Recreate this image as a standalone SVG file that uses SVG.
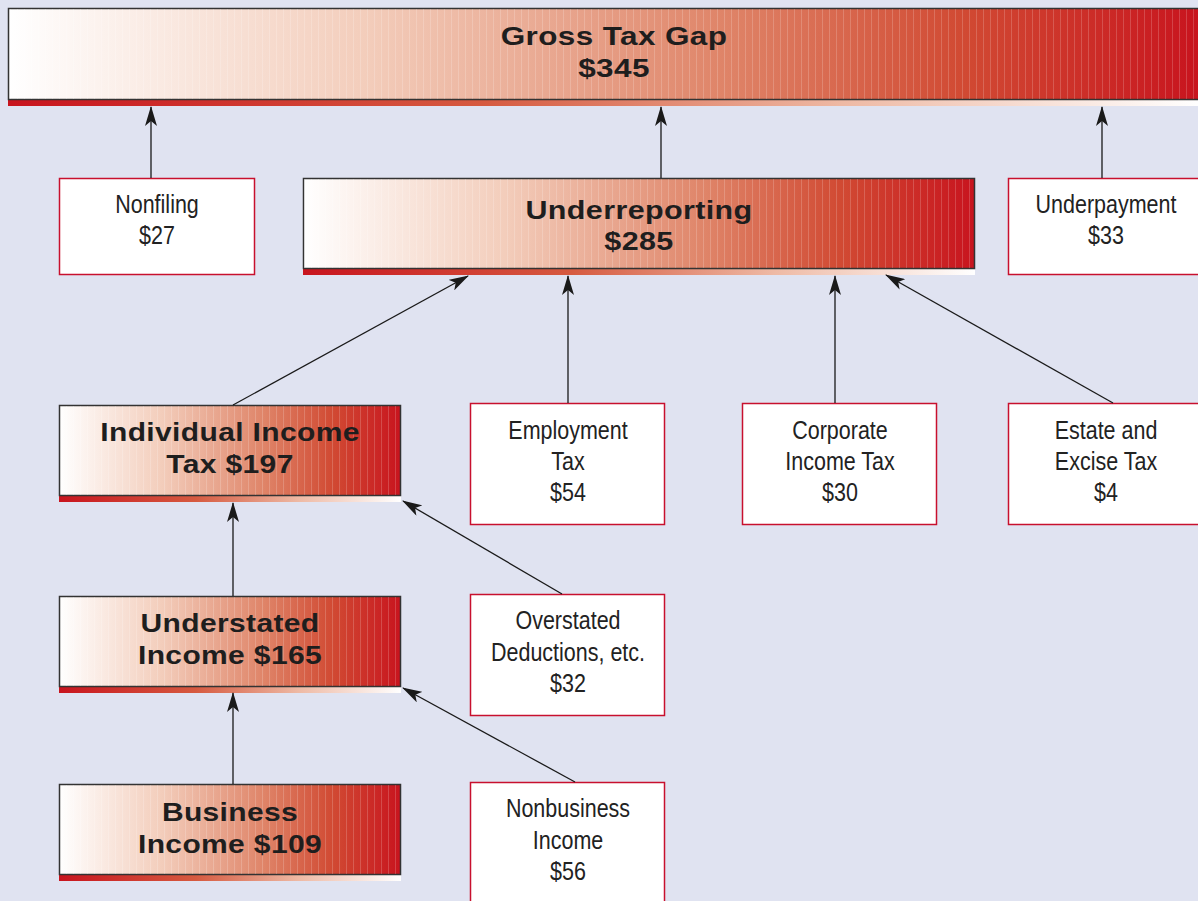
<svg xmlns="http://www.w3.org/2000/svg" width="1198" height="901" viewBox="0 0 1198 901">
<defs>
<linearGradient id="g" x1="0" y1="0" x2="1" y2="0">
<stop offset="0" stop-color="#ffffff"/>
<stop offset="0.3" stop-color="#f3cdbb"/>
<stop offset="0.6" stop-color="#df8468"/>
<stop offset="0.8" stop-color="#d14a33"/>
<stop offset="1" stop-color="#c8141e"/>
</linearGradient>
<linearGradient id="gr" x1="0" y1="0" x2="1" y2="0">
<stop offset="0" stop-color="#c8141e"/>
<stop offset="0.4" stop-color="#d65a40"/>
<stop offset="0.7" stop-color="#eeb9a4"/>
<stop offset="1" stop-color="#ffffff"/>
</linearGradient>
<pattern id="stripes" width="7" height="10" patternUnits="userSpaceOnUse">
<rect x="3" y="0" width="1" height="10" fill="#ffffff" opacity="0.18"/>
</pattern>
<marker id="ah" viewBox="0 0 20 12" refX="19" refY="6" markerWidth="20" markerHeight="12" markerUnits="userSpaceOnUse" orient="auto">
<path d="M0,0 L20,6 L0,12 L5,6 Z" fill="#1a1a1a"/>
</marker>
</defs>
<style>
.gbox{fill:url(#g);stroke:#333;stroke-width:1.5}
.strip{fill:url(#gr)}
.ov{fill:url(#stripes)}
.wbox{fill:#fff;stroke:#c8102e;stroke-width:1.5}
.bt{font-family:"Liberation Sans",Arial,sans-serif;font-weight:bold;font-size:25px;letter-spacing:0.3px;fill:#1e1e1e;text-anchor:middle}
.nt{font-family:"Liberation Sans",Arial,sans-serif;font-size:25px;fill:#222;text-anchor:middle}
.conn{stroke:#1a1a1a;stroke-width:1.3;fill:none;marker-end:url(#ah)}
</style>
<rect width="1198" height="901" fill="#e0e3f1"/>

<g id="gross">
<rect x="8" y="99" width="1192" height="7" class="strip"/>
<rect x="8.5" y="8.5" width="1192" height="91" class="gbox"/>
<rect x="9" y="9" width="1190" height="90" class="ov"/>
<g transform="translate(614,0) scale(1.26,1)">
<text x="0" y="45" class="bt">Gross Tax Gap</text>
<text x="0" y="77" class="bt">$345</text>
</g>
</g>

<g id="nonfiling">
<rect x="59.5" y="178.5" width="195" height="96" class="wbox"/>
<g transform="translate(157,0) scale(0.86,1)">
<text x="0" y="213" class="nt">Nonfiling</text>
<text x="0" y="244" class="nt">$27</text>
</g>
</g>

<g id="underreporting">
<rect x="303" y="268" width="672" height="7" class="strip"/>
<rect x="303.5" y="178.5" width="671" height="90" class="gbox"/>
<rect x="304" y="179" width="670" height="89" class="ov"/>
<g transform="translate(639,0) scale(1.22,1)">
<text x="0" y="219" class="bt">Underreporting</text>
<text x="0" y="250" class="bt">$285</text>
</g>
</g>

<g id="underpayment">
<rect x="1008.5" y="178.5" width="195" height="96" class="wbox"/>
<g transform="translate(1106,0) scale(0.86,1)">
<text x="0" y="213" class="nt">Underpayment</text>
<text x="0" y="244" class="nt">$33</text>
</g>
</g>

<g id="individual">
<rect x="59" y="495" width="342" height="7" class="strip"/>
<rect x="59.5" y="405.5" width="341" height="90" class="gbox"/>
<rect x="60" y="406" width="340" height="89" class="ov"/>
<g transform="translate(230,0) scale(1.2,1)">
<text x="0" y="441" class="bt">Individual Income</text>
<text x="0" y="473" class="bt">Tax $197</text>
</g>
</g>

<g id="employment">
<rect x="470.5" y="403.5" width="194" height="121" class="wbox"/>
<g transform="translate(568,0) scale(0.86,1)">
<text x="0" y="439" class="nt">Employment</text>
<text x="0" y="470" class="nt">Tax</text>
<text x="0" y="501" class="nt">$54</text>
</g>
</g>

<g id="corporate">
<rect x="742.5" y="403.5" width="194" height="121" class="wbox"/>
<g transform="translate(840,0) scale(0.86,1)">
<text x="0" y="439" class="nt">Corporate</text>
<text x="0" y="470" class="nt">Income Tax</text>
<text x="0" y="501" class="nt">$30</text>
</g>
</g>

<g id="estate">
<rect x="1008.5" y="403.5" width="195" height="121" class="wbox"/>
<g transform="translate(1106,0) scale(0.86,1)">
<text x="0" y="439" class="nt">Estate and</text>
<text x="0" y="470" class="nt">Excise Tax</text>
<text x="0" y="501" class="nt">$4</text>
</g>
</g>

<g id="understated">
<rect x="59" y="686" width="342" height="7" class="strip"/>
<rect x="59.5" y="596.5" width="341" height="90" class="gbox"/>
<rect x="60" y="597" width="340" height="89" class="ov"/>
<g transform="translate(230,0) scale(1.2,1)">
<text x="0" y="632" class="bt">Understated</text>
<text x="0" y="664" class="bt">Income $165</text>
</g>
</g>

<g id="overstated">
<rect x="470.5" y="594.5" width="194" height="121" class="wbox"/>
<g transform="translate(568,0) scale(0.86,1)">
<text x="0" y="629" class="nt">Overstated</text>
<text x="0" y="661" class="nt">Deductions, etc.</text>
<text x="0" y="692" class="nt">$32</text>
</g>
</g>

<g id="business">
<rect x="59" y="874" width="342" height="7" class="strip"/>
<rect x="59.5" y="784.5" width="341" height="90" class="gbox"/>
<rect x="60" y="785" width="340" height="89" class="ov"/>
<g transform="translate(230,0) scale(1.2,1)">
<text x="0" y="821" class="bt">Business</text>
<text x="0" y="853" class="bt">Income $109</text>
</g>
</g>

<g id="nonbusiness">
<rect x="470.5" y="782.5" width="194" height="130" class="wbox"/>
<g transform="translate(568,0) scale(0.86,1)">
<text x="0" y="817" class="nt">Nonbusiness</text>
<text x="0" y="849" class="nt">Income</text>
<text x="0" y="880" class="nt">$56</text>
</g>
</g>

<g id="connectors">
<line x1="151" y1="178" x2="151" y2="107" class="conn"/>
<line x1="661" y1="178" x2="661" y2="107" class="conn"/>
<line x1="1102" y1="178" x2="1102" y2="107" class="conn"/>
<line x1="233" y1="405" x2="468" y2="276" class="conn"/>
<line x1="568" y1="403" x2="568" y2="276" class="conn"/>
<line x1="835" y1="403" x2="835" y2="276" class="conn"/>
<line x1="1113" y1="403" x2="886" y2="275" class="conn"/>
<line x1="233" y1="596" x2="233" y2="503" class="conn"/>
<line x1="562" y1="594" x2="403" y2="501" class="conn"/>
<line x1="233" y1="784" x2="233" y2="693" class="conn"/>
<line x1="575" y1="782" x2="403" y2="688" class="conn"/>
</g>
</svg>
